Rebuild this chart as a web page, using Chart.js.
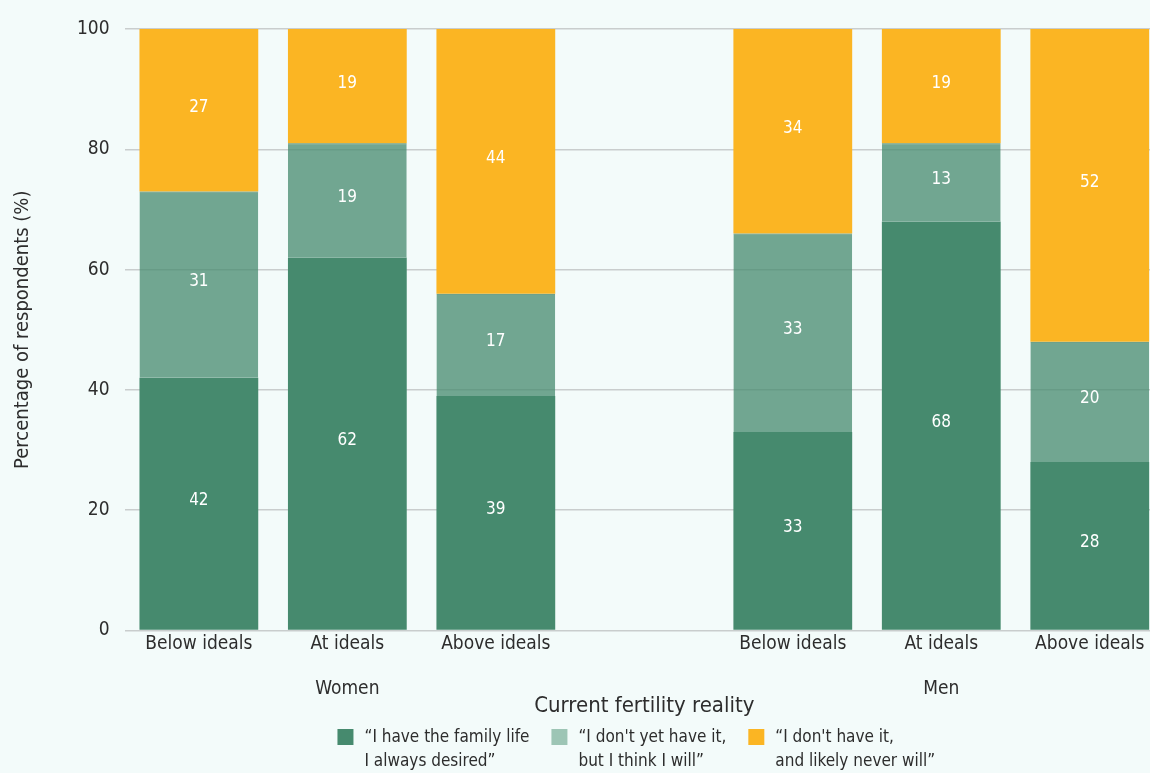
<!DOCTYPE html>
<html>
<head>
<meta charset="utf-8">
<script src="https://cdn.jsdelivr.net/npm/chart.js@4/dist/chart.umd.min.js"></script>
<style>
  html, body { margin: 0; padding: 0; background: #f3fbfa; overflow: hidden; }
  #wrap { width: 1164px; height: 773px; }
</style>
</head>
<body>
<div id="wrap"><canvas id="chart"></canvas></div>
<script>
// categories (4th one is the empty gap between Women and Men)
const categories = [
  ['Below ideals'], ['At ideals', '', 'Women'], ['Above ideals'],
  [''],
  ['Below ideals'], ['At ideals', '', 'Men'], ['Above ideals']
];
const haveIt = [42, 62, 39, null, 33, 68, 28];
const notYet = [31, 19, 17, null, 33, 13, 20];
const never = [27, 19, 44, null, 34, 19, 52];
const seriesNames = [
  ['\u201CI have the family life', 'I always desired\u201D'],
  ['\u201CI don\'t yet have it,', 'but I think I will\u201D'],
  ['\u201CI don\'t have it,', 'and likely never will\u201D']
];
const yTicks = [0, 20, 40, 60, 80, 100];

const FONT = '"DejaVu Sans Condensed", "DejaVu Sans", sans-serif';
const TEXT = '#2d2d2d';
const legendFill = ['#468a6e', '#9dc5b5', '#fbb523'];

// white value labels in the middle of each segment
const segmentLabels = {
  id: 'segmentLabels',
  afterDatasetsDraw(chart) {
    const ctx = chart.ctx;
    ctx.save();
    ctx.fillStyle = '#ffffff';
    ctx.font = '17px ' + FONT;
    ctx.textAlign = 'center';
    ctx.textBaseline = 'middle';
    chart.data.datasets.forEach((ds, di) => {
      const meta = chart.getDatasetMeta(di);
      meta.data.forEach((el, i) => {
        const v = ds.data[i];
        if (v == null) return;
        const p = el.getProps(['x', 'y', 'base'], true);
        ctx.fillText(String(v), p.x, (p.y + p.base) / 2 - 3);
      });
    });
    ctx.restore();
  }
};

// two-line legend under the axis title
const bottomLegend = {
  id: 'bottomLegend',
  afterDraw(chart) {
    const ctx = chart.ctx;
    const box = 16, gap = 11, between = 22, lineH = 24;
    ctx.save();
    ctx.font = '17px ' + FONT;
    ctx.textBaseline = 'middle';
    ctx.textAlign = 'left';
    const widths = seriesNames.map(lines => Math.max(...lines.map(l => ctx.measureText(l).width)));
    const total = widths.reduce((a, w) => a + box + gap + w, 0) + between * (widths.length - 1);
    const area = chart.chartArea;
    let x = (area.left + area.right) / 2 - total / 2 - 8;
    const y1 = chart.height - 35;
    seriesNames.forEach((lines, i) => {
      ctx.fillStyle = legendFill[i];
      ctx.fillRect(x, y1 - 9, box, box);
      ctx.fillStyle = TEXT;
      lines.forEach((l, k) => ctx.fillText(l, x + box + gap, y1 + k * lineH));
      x += box + gap + widths[i] + between;
    });
    ctx.restore();
  }
};

Chart.defaults.font.family = FONT;
Chart.defaults.color = TEXT;

new Chart(document.getElementById('chart'), {
  type: 'bar',
  data: {
    labels: categories,
    datasets: [
      { label: 'have', data: haveIt, backgroundColor: '#468a6e', borderWidth: 0 },
      { label: 'not yet', data: notYet, backgroundColor: 'rgba(70,138,110,0.75)',
        borderColor: 'rgba(60,125,98,0.9)', borderWidth: { top: 1, bottom: 0, left: 0, right: 0 }, borderSkipped: false },
      { label: 'never', data: never, backgroundColor: '#fbb523', borderWidth: 0 }
    ]
  },
  options: {
    responsive: true,
    maintainAspectRatio: false,
    animation: false,
    layout: { padding: { top: 29, left: 7, right: 0, bottom: 54 } },
    datasets: { bar: { categoryPercentage: 0.8, barPercentage: 1 } },
    scales: {
      x: {
        stacked: true,
        grid: { display: false, drawTicks: false },
        border: { display: false },
        ticks: { font: { size: 19, lineHeight: 1.16 }, color: TEXT, padding: 3, maxRotation: 0, autoSkip: false },
        title: { display: true, text: 'Current fertility reality', font: { size: 22, lineHeight: 1.2 }, color: TEXT, padding: { top: -10, bottom: 0 } }
      },
      y: {
        stacked: true,
        min: 0,
        max: 100,
        afterBuildTicks(axis) { axis.ticks = yTicks.map(v => ({ value: v })); },
        grid: { color: '#c9cdcd', lineWidth: 1.5, drawTicks: false },
        border: { display: false },
        ticks: { font: { size: 19 }, color: TEXT, padding: 15 },
        title: { display: true, text: 'Percentage of respondents (%)', font: { size: 20 }, color: TEXT, padding: { bottom: 27 } }
      }
    },
    plugins: {
      tooltip: { enabled: false },
      legend: { display: false }
    }
  },
  plugins: [segmentLabels, bottomLegend]
});
</script>
</body>
</html>
